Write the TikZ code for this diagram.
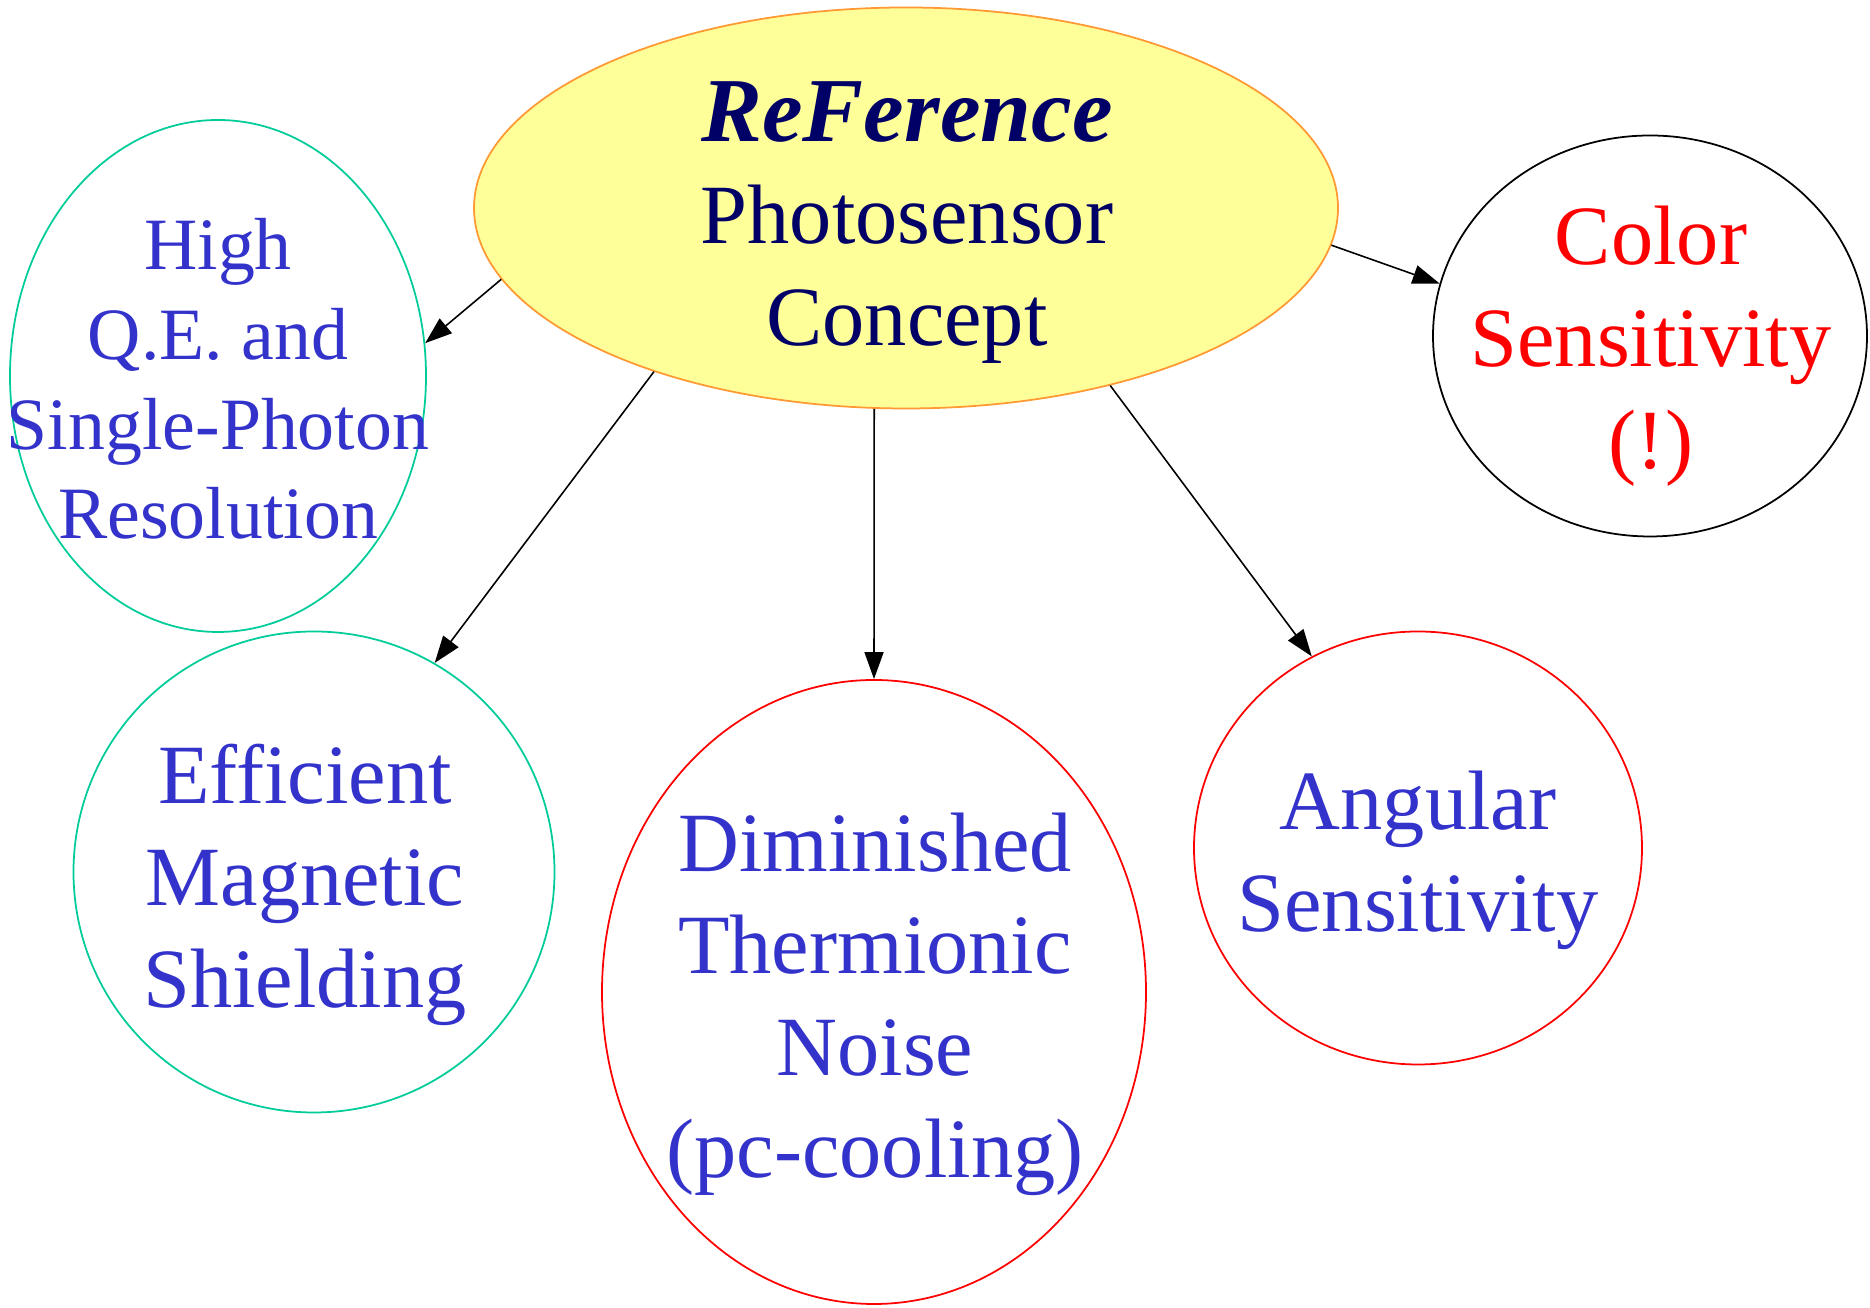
\documentclass[tikz,border=0pt]{standalone}
\usepackage{fontspec}
\setmainfont{Liberation Serif}
\usepackage{tikz}
\usetikzlibrary{arrows.meta, positioning, shapes.geometric}

\definecolor{refyellow}{HTML}{FFFF99}
\definecolor{reforange}{HTML}{FF9933}
\definecolor{refnavy}{HTML}{000066}
\definecolor{itemblue}{HTML}{3333CC}
\definecolor{itemteal}{HTML}{00CC99}

\begin{document}
\begin{tikzpicture}[
    bubble/.style={ellipse, draw=#1, line width=0.5pt, inner sep=0pt},
    txt/.style={align=center, inner sep=0pt, text=itemblue, font=\fontsize{24}{29}\selectfont},
    link/.style={-{Triangle[length=0.27cm, width=0.19cm]}, line width=0.45pt}
]
    \useasboundingbox (0,0) rectangle (18.7,13.08);

    \node[bubble=reforange, fill=refyellow, minimum width=8.64cm, minimum height=4.01cm] (ref) at (9.06,11.0) {};
    \node[txt, text=refnavy] (ref-txt) at (9.07,10.85)
        {{\fontsize{26}{30}\selectfont\bfseries\itshape ReFerence}\\Photosensor\\Concept};

    \node[bubble=itemteal, minimum width=4.16cm, minimum height=5.12cm] (hq) at (2.18,9.32) {};
    \node[txt, font=\fontsize{21}{25.5}\selectfont] (hq-txt) at (2.18,9.29)
        {High\\Q.E. and\\Single-Photon\\Resolution};

    \node[bubble=itemteal, minimum width=4.81cm, minimum height=4.81cm] (ems) at (3.14,4.36) {};
    \node[txt] (ems-txt) at (3.05,4.23) {Efficient\\Magnetic\\Shielding};

    \node[bubble=red, minimum width=5.44cm, minimum height=6.24cm] (dtn) at (8.74,3.16) {};
    \node[txt] (dtn-txt) at (8.75,3.04) {Diminished\\Thermionic\\Noise\\(pc-cooling)};

    \node[bubble=red, minimum width=4.48cm, minimum height=4.33cm] (ang) at (14.18,4.60) {};
    \node[txt] (ang-txt) at (14.18,4.48) {Angular\\Sensitivity};

    \node[bubble=black, minimum width=4.34cm, minimum height=4.01cm] (col) at (16.50,9.72) {};
    \node[txt, text=red] (col-txt) at (16.51,9.62) {Color\\Sensitivity\\(!)};

    \draw[link] (ref.190) -- (hq.9);
    \draw[link] (ref.213) -- (ems.60);
    \draw[link] (ref.261) -- (dtn.north);
    \draw[link] (ref.-41) -- (ang.119);
    \draw[link] (ref.-5) -- (col.166);
\end{tikzpicture}
\end{document}
